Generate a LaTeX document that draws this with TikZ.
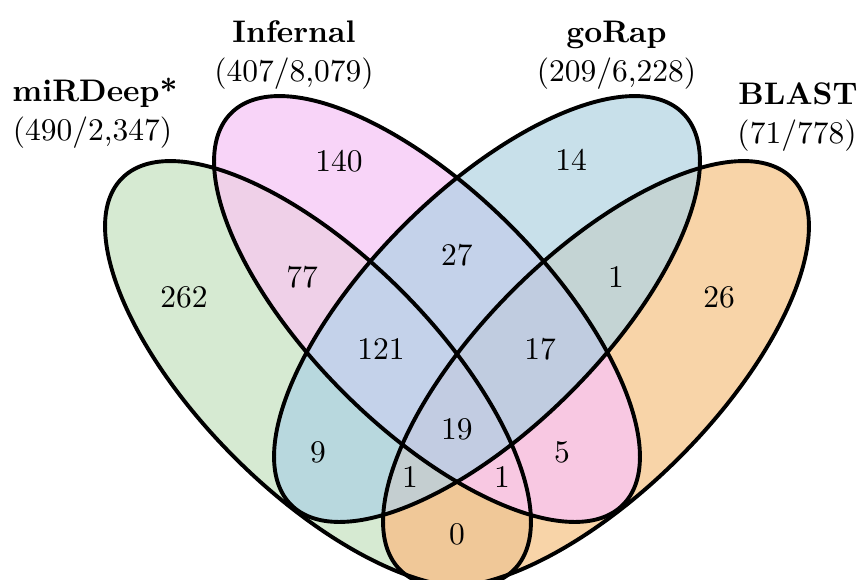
\documentclass[tikz,border=0pt]{standalone}
\definecolor{cG}{HTML}{D6EAD2}
\definecolor{cP}{HTML}{F8D4F8}
\definecolor{cB}{HTML}{C8E0EA}
\definecolor{cO}{HTML}{F8D4A8}
\definecolor{cGP}{HTML}{EFD0E8}
\definecolor{cGB}{HTML}{B8D8DE}
\definecolor{cGO}{HTML}{F0C898}
\definecolor{cPB}{HTML}{C4D2EA}
\definecolor{cPO}{HTML}{F8C8E2}
\definecolor{cBO}{HTML}{C4D4D4}
\definecolor{cGPB}{HTML}{C4D2EA}
\definecolor{cGPO}{HTML}{F8C8E2}
\definecolor{cGBO}{HTML}{C4CED0}
\definecolor{cPBO}{HTML}{C0CCE0}
\definecolor{cGPBO}{HTML}{C2CCE2}
% the four set outlines (all the same size, tilted by 45 degrees)
\newcommand\ellGreen{(318,205) ellipse (277 and 118)}
\newcommand\ellPink{(427,270) ellipse (277 and 118)}
\newcommand\ellBlue{(487,270) ellipse (277 and 118)}
\newcommand\ellOrange{(596,205) ellipse (277 and 118)}
\begin{document}
\begin{tikzpicture}[x=0.33333pt,y=0.33333pt,
  rG/.style={rotate around={-45:(318,205)}},
  rP/.style={rotate around={-45:(427,270)}},
  rB/.style={rotate around={45:(487,270)}},
  rO/.style={rotate around={45:(596,205)}},
  outline/.style={line width=1.3pt, draw=black},
  ttl/.style={font=\fontsize{10.4}{12}\selectfont\bfseries, inner sep=0pt, anchor=base},
  sub/.style={font=\fontsize{10.5}{12}\selectfont, inner sep=0pt, anchor=base},
  cnt/.style={font=\fontsize{10.5}{12}\selectfont, inner sep=0pt},
]
\useasboundingbox (0,0) rectangle (858,579);

% single sets
\fill[cG,rG] \ellGreen;
\fill[cO,rO] \ellOrange;
\fill[cP,rP] \ellPink;
\fill[cB,rB] \ellBlue;

% pairwise overlaps
\begin{scope}\clip[rG] \ellGreen; \fill[cGP,rP] \ellPink; \end{scope}
\begin{scope}\clip[rG] \ellGreen; \fill[cGB,rB] \ellBlue; \end{scope}
\begin{scope}\clip[rG] \ellGreen; \fill[cGO,rO] \ellOrange; \end{scope}
\begin{scope}\clip[rP] \ellPink; \fill[cPB,rB] \ellBlue; \end{scope}
\begin{scope}\clip[rP] \ellPink; \fill[cPO,rO] \ellOrange; \end{scope}
\begin{scope}\clip[rB] \ellBlue; \fill[cBO,rO] \ellOrange; \end{scope}

% triple overlaps
\begin{scope}\clip[rG] \ellGreen; \clip[rP] \ellPink; \fill[cGPB,rB] \ellBlue; \end{scope}
\begin{scope}\clip[rG] \ellGreen; \clip[rP] \ellPink; \fill[cGPO,rO] \ellOrange; \end{scope}
\begin{scope}\clip[rG] \ellGreen; \clip[rB] \ellBlue; \fill[cGBO,rO] \ellOrange; \end{scope}
\begin{scope}\clip[rP] \ellPink; \clip[rB] \ellBlue; \fill[cPBO,rO] \ellOrange; \end{scope}

% all four
\begin{scope}\clip[rG] \ellGreen; \clip[rP] \ellPink; \clip[rB] \ellBlue; \fill[cGPBO,rO] \ellOrange; \end{scope}

% outlines
\draw[outline,rG] \ellGreen;
\draw[outline,rP] \ellPink;
\draw[outline,rB] \ellBlue;
\draw[outline,rO] \ellOrange;

% set titles
\node[ttl] (tG) at (95,478) {miRDeep*};
\node[sub] (sG) at (92.5,439) {(490/2,347)};
\node[ttl] (tP) at (294,537) {Infernal};
\node[sub] (sP) at (294,498) {(407/8,079)};
\node[ttl] (tB) at (616.5,537) {goRap};
\node[sub] (sB) at (616.5,498) {(209/6,228)};
\node[ttl] (tO) at (798,475) {BLAST};
\node[sub] (sO) at (797,436) {(71/778)};

% region counts
\node[cnt] (nG)    at (184,282) {262};
\node[cnt] (nP)    at (339,418) {140};
\node[cnt] (nB)    at (571,419) {14};
\node[cnt] (nO)    at (719,282) {26};
\node[cnt] (nGP)   at (302,302) {77};
\node[cnt] (nPB)   at (457,324) {27};
\node[cnt] (nBO)   at (616,302) {1};
\node[cnt] (nGPB)  at (381,230) {121};
\node[cnt] (nPBO)  at (540,230) {17};
\node[cnt] (nGB)   at (318,127) {9};
\node[cnt] (nAll)  at (457,150) {19};
\node[cnt] (nPO)   at (562,127) {5};
\node[cnt] (nGBO)  at (410,102) {1};
\node[cnt] (nGPO)  at (502,102) {1};
\node[cnt] (nGO)   at (457,45)  {0};
\end{tikzpicture}
\end{document}
